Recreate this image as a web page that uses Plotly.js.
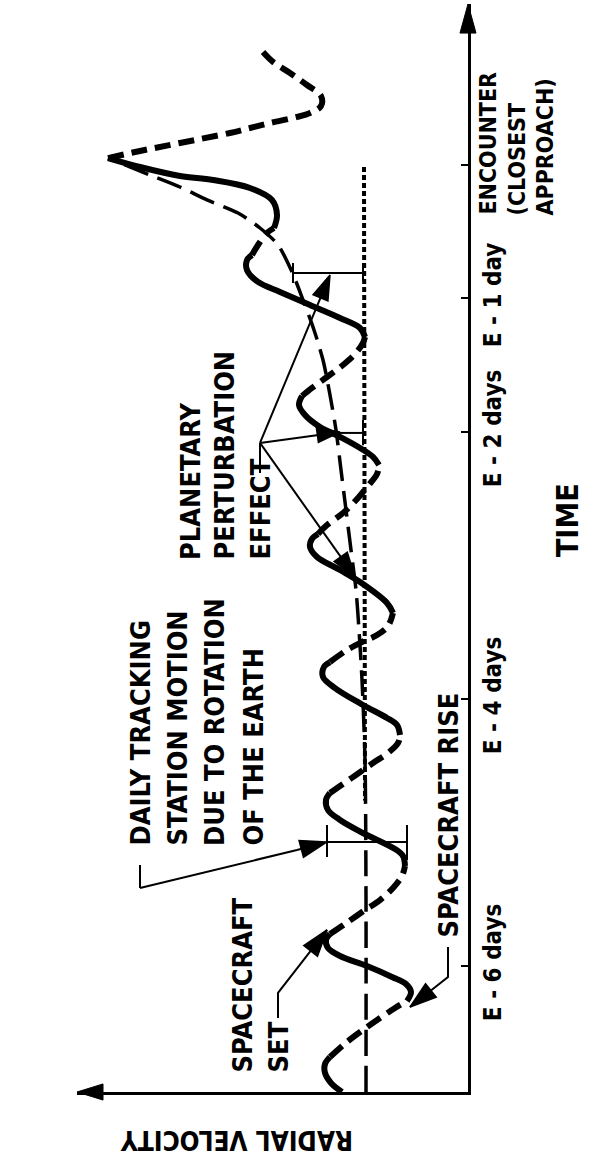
<!DOCTYPE html>
<html><head><meta charset="utf-8">
<script src="https://cdn.plot.ly/plotly-3.0.1.min.js"></script>
<style>html,body{margin:0;padding:0;background:#fff}#chart{width:593px;height:1161px}</style>
</head><body><div id="chart"></div>
<script>
// Time: days relative to encounter (closest approach). Velocity: arbitrary units.
const timeTicks = [-6, -4, -2, -1, 0];
const timeTickText = ['E - 6 days', 'E - 4 days', 'E - 2 days', 'E - 1 day', ''];

// Tracking passes (spacecraft rise -> set), drawn solid
const passTime = [
  -6.944, -6.876, -6.801, -6.734, -6.682, null,
  -6.262, -6.195, -6.135, -6.082, -6.000, -5.925, -5.865, -5.805, -5.760, null,
  -5.251, -5.176, -5.124, -5.004, -4.906, -4.831, -4.757, -4.704, null,
  -4.270, -4.195, -4.142, -4.045, -3.918, -3.835, -3.760, -3.723, null,
  -3.356, -3.281, -3.139, -3.034, -2.936, -2.861, -2.801, -2.764, null,
  -2.247, -2.187, -2.120, -2.037, -1.963, -1.873, -1.798, -1.730, null,
  -1.288, -1.221, -1.146, -1.049, -0.951, -0.876, -0.787, -0.712, -0.674, null,
  -0.472, -0.375, -0.262, -0.172, -0.112, -0.082, -0.015, 0.052
];
const passVel = [
  12.6, 13.7, 14.3, 14.3, 13.8, null,
  6.1, 5.7, 6.2, 7.6, 10.1, 12.8, 14.0, 14.2, 13.8, null,
  6.3, 6.5, 7.3, 10.5, 12.8, 14.0, 14.2, 13.8, null,
  6.8, 7.1, 8.1, 10.5, 13.3, 14.5, 14.4, 13.8, null,
  7.5, 8.1, 10.5, 12.8, 15.1, 15.8, 15.6, 15.0, null,
  8.9, 9.5, 10.8, 12.8, 14.8, 16.3, 16.9, 16.6, null,
  10.3, 10.8, 12.8, 15.8, 18.8, 21.0, 22.1, 22.1, 21.6, null,
  19.4, 19.1, 19.6, 21.8, 25.5, 28.8, 32.8, 36.0
];

// Between passes (station out of view), drawn dashed
const gapTime = [
  -6.682, -6.569, -6.479, -6.390, -6.315, -6.262, null,
  -5.760, -5.685, -5.581, -5.506, -5.416, -5.326, -5.251, null,
  -4.704, -4.652, -4.569, -4.479, -4.404, -4.330, -4.270, null,
  -3.723, -3.633, -3.573, -3.521, -3.453, -3.356, null,
  -2.764, -2.697, -2.607, -2.494, -2.404, -2.315, -2.247, null,
  -1.730, -1.670, -1.588, -1.498, -1.408, -1.333, -1.288, null,
  -0.674, -0.599, -0.509, -0.472, null,
  0.052, 0.105, 0.165, 0.240, 0.277, 0.315, 0.360, 0.390, 0.442, 0.517, 0.599, 0.689, 0.772, 0.846
];
const gapVel = [
  13.8, 12.1, 10.5, 8.8, 7.3, 6.1, null,
  13.8, 12.3, 10.3, 8.8, 7.5, 6.6, 6.3, null,
  13.8, 12.8, 11.2, 9.5, 8.0, 7.0, 6.8, null,
  13.8, 12.1, 10.6, 9.1, 8.0, 7.5, null,
  15.0, 14.1, 12.5, 11.0, 10.0, 9.1, 8.9, null,
  16.6, 15.6, 14.1, 12.5, 11.2, 10.5, 10.3, null,
  21.6, 21.0, 20.1, 19.4, null,
  36.0, 32.8, 28.8, 23.8, 21.8, 19.8, 17.1, 15.8, 14.7, 14.7, 16.1, 17.8, 19.5, 20.5
];

// Mean velocity including planetary perturbation (long dashes)
const trendTime = [-6.944, -5.506, -4.457, -3.858, -3.483, -3.184, -2.884, -2.584, -2.285, -1.985,
  -1.723, -1.461, -1.236, -1.011, -0.801, -0.599, -0.472, -0.360, -0.262, -0.165, -0.075, 0.000, 0.052];
const trendVel = [10.2, 10.2, 10.3, 10.6, 10.9, 11.2, 11.7, 12.2, 12.7, 13.2,
  13.8, 14.5, 15.4, 16.5, 17.6, 19.0, 20.8, 23.0, 26.1, 28.8, 31.8, 34.3, 36.0];

// Unperturbed reference (dotted)
const refTime = [-0.015, -4.760];
const refVel = [10.4, 10.3];

const FONT = 'Liberation Sans Narrow, DejaVu Sans Condensed, Arial Narrow, sans-serif';
const K = 'black';

function leader(vel, time, arrowSize) {
  const sizes = vel.map((_, i) => (i === vel.length - 1 && arrowSize ? arrowSize : 0));
  return {
    x: vel, y: time, type: 'scatter', mode: arrowSize ? 'lines+markers' : 'lines',
    line: {color: K, width: 2}, hoverinfo: 'skip',
    marker: {symbol: 'arrow', size: sizes, angleref: 'previous', color: K, opacity: 1,
      line: {color: K, width: 1.5}}
  };
}

const traces = [
  {x: refVel, y: refTime, type: 'scatter', mode: 'lines', line: {color: K, width: 4, dash: '5px,3px'}},
  {x: trendVel, y: trendTime, type: 'scatter', mode: 'lines', line: {color: K, width: 3.5, dash: '26px,10px', shape: 'spline', smoothing: 0.8}},
  {x: gapVel, y: gapTime, type: 'scatter', mode: 'lines', connectgaps: false, line: {color: K, width: 6, dash: '16px,8px', shape: 'spline', smoothing: 1}},
  {x: passVel, y: passTime, type: 'scatter', mode: 'lines', connectgaps: false, line: {color: K, width: 6, shape: 'spline', smoothing: 1}},
  // callout leaders
  leader([32.8, 32.8, 17.1, 14.1], [-5.243, -5.416, -5.131, -5.071], 28),
  leader([19.0, 19.0, 14.1], [-6.390, -6.202, -5.730], 28),
  leader([2.0, 2.0, 5.8], [-5.858, -6.082, -6.307], 28),
  leader([20.8, 20.8], [-2.307, -2.082], 0),
  leader([20.8, 13.8], [-2.082, -0.824], 26),
  leader([20.8, 12.8], [-2.082, -2.000], 24),
  leader([20.8, 11.3], [-2.082, -3.086], 26)
];

function seg(x0, y0, x1, y1, w) {
  return {type: 'line', xref: 'x', yref: 'y', x0, y0, x1, y1, line: {color: K, width: w || 2}};
}

const shapes = [
  // daily motion bracket
  seg(14.1, -5.071, 6.1, -5.071), seg(14.1, -4.944, 14.1, -5.184), seg(6.1, -4.944, 6.1, -5.206),
  // perturbation brackets
  seg(17.5, -0.809, 10.5, -0.809), seg(17.5, -0.734, 17.5, -0.884), seg(10.5, -0.734, 10.5, -0.869),
  seg(13.1, -2.007, 10.5, -2.007), seg(10.5, -1.910, 10.5, -2.100),
  // axis arrowheads
  {type: 'path', xref: 'paper', yref: 'paper', path: 'M 0.9795 0.9733 L 1 1 L 1.0205 0.9733 Z', fillcolor: K, line: {color: K, width: 1}},
  {type: 'path', xref: 'paper', yref: 'paper', path: 'M 0.0665 0.0074 L 0 0 L 0.0665 -0.0074 Z', fillcolor: K, line: {color: K, width: 1}}
];

function lbl(text, x, y, opts, size) {
  return Object.assign({
    text, x, y, xref: 'x', yref: 'y', showarrow: false, textangle: -90,
    xanchor: 'center', yanchor: 'bottom',
    font: {family: FONT, size: size || 27, color: K, weight: 'bold'}
  }, opts || {});
}
const P = {xref: 'paper', yref: 'paper'};

const annotations = [
  lbl('DAILY TRACKING', 32.8, -5.116),
  lbl('STATION MOTION', 29.1, -5.116),
  lbl('DUE TO ROTATION', 25.3, -5.116),
  lbl('OF THE EARTH', 21.5, -5.116),
  lbl('PLANETARY', 27.8, -2.974),
  lbl('PERTURBATION', 24.3, -2.974),
  lbl('EFFECT', 20.7, -2.974),
  lbl('SPACECRAFT', 22.6, -6.816),
  lbl('SET', 19.0, -6.816),
  lbl('SPACECRAFT RISE', 2.0, -5.805),
  lbl('ENCOUNTER', 1.0512, 0.8042, P, 23),
  lbl('(CLOSEST', 1.1253, 0.8042, P, 23),
  lbl('APPROACH)', 1.1969, 0.8042, P, 23),
  lbl('TIME', 1.2532, 0.5257, Object.assign({yanchor: 'middle'}, P), 30),
  lbl('RADIAL VELOCITY', 0.4066, -0.0441, Object.assign({yanchor: 'middle', textangle: 180}, P), 26)
];

const layout = {
  width: 593, height: 1161,
  margin: {l: 77, r: 125, t: 4, b: 69},
  paper_bgcolor: 'white', plot_bgcolor: 'white',
  showlegend: false,
  xaxis: {range: [39.1, 0], showline: true, linewidth: 3, linecolor: K, showgrid: false,
    zeroline: false, showticklabels: false, ticks: ''},
  yaxis: {range: [-6.944, 1.206], side: 'right', showline: true, linewidth: 3, linecolor: K,
    showgrid: false, zeroline: false, tickvals: timeTicks, ticktext: timeTickText,
    tickangle: -90, ticks: 'inside', ticklen: 7, tickwidth: 2, tickcolor: K,
    ticklabelstandoff: 1,
    tickfont: {family: FONT, size: 24, color: K, weight: 'bold'}},
  shapes, annotations
};

Plotly.newPlot('chart', traces, layout, {displayModeBar: false, staticPlot: true});
</script>
</body></html>
